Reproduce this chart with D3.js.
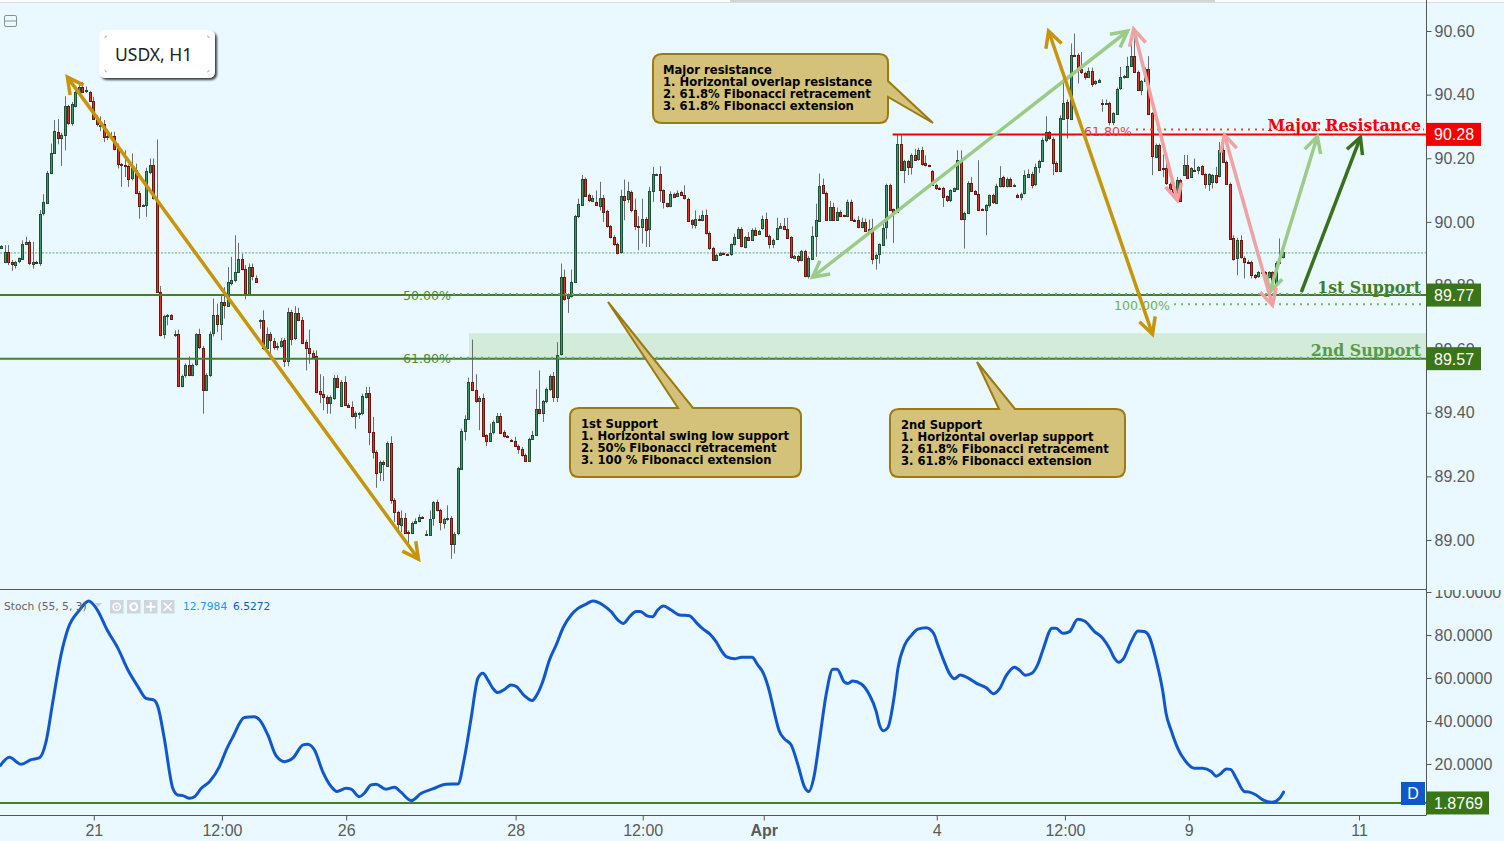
<!DOCTYPE html>
<html><head><meta charset="utf-8">
<script src="https://cdn.jsdelivr.net/npm/d3@7"></script>
<style>html,body{margin:0;padding:0;background:#e9f9ff;overflow:hidden}svg{display:block}</style>
</head><body><svg id="c" width="1504" height="841"></svg>
<script>
// open, high, low, close
const ohlcA=[[89.918,89.927,89.915,89.924],[89.874,89.927,89.870,89.904],[89.904,89.927,89.864,89.874],[89.874,89.880,89.846,89.868],[89.866,89.878,89.853,89.874],[89.874,89.888,89.870,89.885],[89.885,89.942,89.880,89.932],[89.932,89.953,89.930,89.938],[89.938,89.942,89.864,89.871],[89.868,89.937,89.853,89.874],[89.874,89.878,89.868,89.870],[89.871,90.037,89.862,90.026],[90.026,90.087,90.020,90.061],[90.061,90.160,90.058,90.155],[90.155,90.246,90.150,90.218],[90.218,90.320,90.215,90.287],[90.283,90.323,90.244,90.265],[90.265,90.280,90.176,90.273],[90.273,90.395,90.225,90.363],[90.363,90.368,90.304,90.309],[90.309,90.377,90.302,90.369],[90.365,90.419,90.360,90.408],[90.406,90.430,90.400,90.425],[90.425,90.440,90.405,90.409],[90.410,90.426,90.405,90.414],[90.407,90.412,90.378,90.380],[90.381,90.393,90.322,90.325],[90.325,90.335,90.300,90.305],[90.303,90.332,90.285,90.306],[90.309,90.320,90.251,90.268],[90.268,90.290,90.257,90.270],[90.269,90.283,90.265,90.271],[90.271,90.283,90.225,90.231],[90.231,90.246,90.168,90.182],[90.181,90.185,90.110,90.179],[90.180,90.225,90.141,90.178],[90.177,90.180,90.110,90.136],[90.136,90.215,90.130,90.168],[90.164,90.183,90.087,90.092],[90.092,90.097,90.010,90.051],[90.050,90.055,90.047,90.052],[90.053,90.170,90.016,90.161],[90.158,90.199,90.150,90.180],[90.180,90.199,90.070,90.075],[90.070,90.259,90.060,89.780]];
const ohlcB=[[89.780,89.798,89.640,89.646],[89.646,89.708,89.633,89.703],[89.703,89.710,89.675,89.707],[89.708,89.710,89.693,89.695],[89.647,89.659,89.638,89.647],[89.649,89.661,89.481,89.484],[89.484,89.520,89.480,89.517],[89.519,89.555,89.510,89.549],[89.549,89.577,89.515,89.519],[89.519,89.555,89.515,89.551],[89.551,89.650,89.548,89.646],[89.646,89.664,89.600,89.605],[89.605,89.610,89.397,89.473],[89.473,89.525,89.470,89.520],[89.520,89.655,89.512,89.649],[89.651,89.759,89.640,89.708],[89.708,89.743,89.654,89.680],[89.680,89.769,89.628,89.749],[89.749,89.795,89.696,89.739],[89.736,89.858,89.733,89.812],[89.808,89.890,89.800,89.818],[89.820,89.958,89.810,89.844],[89.844,89.934,89.840,89.884],[89.884,89.900,89.848,89.853],[89.853,89.864,89.757,89.777],[89.774,89.869,89.770,89.859],[89.859,89.869,89.816,89.830],[89.825,89.832,89.808,89.811],[89.688,89.694,89.664,89.692],[89.690,89.722,89.598,89.602],[89.602,89.668,89.598,89.646],[89.646,89.654,89.575,89.628],[89.627,89.635,89.598,89.607],[89.608,89.620,89.596,89.610],[89.610,89.635,89.605,89.627],[89.630,89.635,89.544,89.564],[89.564,89.730,89.546,89.718],[89.718,89.724,89.612,89.632],[89.632,89.735,89.628,89.712],[89.712,89.730,89.688,89.691],[89.693,89.701,89.620,89.622],[89.623,89.630,89.533,89.605],[89.605,89.661,89.554,89.588],[89.588,89.596,89.570,89.575],[89.577,89.596,89.462,89.465],[89.468,89.521,89.430,89.460],[89.460,89.515,89.408,89.450],[89.450,89.455,89.397,89.431],[89.431,89.455,89.397,89.450],[89.447,89.518,89.440,89.510],[89.510,89.518,89.478,89.481],[89.422,89.503,89.418,89.498],[89.498,89.515,89.422,89.425],[89.425,89.430,89.415,89.419],[89.419,89.436,89.385,89.390],[89.392,89.405,89.350,89.400],[89.397,89.402,89.381,89.400],[89.397,89.460,89.392,89.452],[89.450,89.481,89.445,89.463],[89.463,89.481,89.298,89.339],[89.339,89.387,89.256,89.277],[89.277,89.282,89.164,89.212],[89.214,89.250,89.185,89.245],[89.245,89.250,89.185,89.240],[89.235,89.310,89.230,89.306],[89.306,89.326,89.114,89.127],[89.127,89.132,89.057,89.088],[89.088,89.092,89.025,89.049],[89.047,89.093,89.025,89.069],[89.069,89.085,89.020,89.022],[89.024,89.030,88.978,89.022],[89.023,89.058,89.018,89.054],[89.054,89.068,89.050,89.061],[89.061,89.080,89.056,89.073],[89.073,89.075,89.068,89.070],[89.018,89.030,89.014,89.018],[89.017,89.093,89.014,89.067],[89.069,89.122,89.045,89.119],[89.119,89.127,89.090,89.093],[89.093,89.098,89.030,89.054],[89.054,89.070,89.036,89.066],[89.066,89.109,89.060,89.070],[89.070,89.075,88.941,88.988],[88.988,89.025,88.957,89.020],[89.020,89.230,89.015,89.225],[89.225,89.350,89.220,89.344],[89.344,89.392,89.313,89.381],[89.381,89.510,89.378,89.498],[89.498,89.630,89.470,89.473],[89.473,89.521,89.432,89.437],[89.437,89.452,89.345,89.447],[89.447,89.460,89.325,89.329],[89.329,89.332,89.295,89.311],[89.311,89.366,89.308,89.337],[89.337,89.376,89.332,89.370],[89.372,89.399,89.368,89.391],[89.391,89.399,89.335,89.339],[89.339,89.345,89.322,89.327],[89.327,89.330,89.320,89.324],[89.315,89.318,89.310,89.312],[89.312,89.324,89.292,89.295],[89.295,89.300,89.271,89.285],[89.287,89.292,89.262,89.268],[89.268,89.272,89.245,89.249],[89.250,89.322,89.245,89.319],[89.319,89.343,89.315,89.331],[89.331,89.474,89.328,89.413],[89.413,89.533,89.395,89.399],[89.399,89.440,89.371,89.437],[89.437,89.480,89.430,89.476],[89.473,89.521,89.468,89.515],[89.515,89.528,89.434,89.450],[89.450,89.622,89.434,89.583],[89.586,89.869,89.580,89.827],[89.827,89.850,89.752,89.758],[89.758,89.775,89.714,89.772],[89.768,89.850,89.762,89.812]];
const ohlcC=[[89.811,90.022,89.808,90.018],[90.016,90.073,90.012,90.055],[90.053,90.147,90.050,90.136],[90.136,90.140,90.080,90.083],[90.083,90.089,90.062,90.066],[90.066,90.084,90.062,90.076],[90.064,90.099,90.050,90.054],[90.052,90.126,90.036,90.076],[90.076,90.084,90.000,90.031],[90.033,90.038,89.982,89.987],[89.987,89.990,89.948,89.953],[89.953,89.958,89.925,89.931],[89.931,89.935,89.898,89.903],[89.903,90.101,89.900,90.080],[90.080,90.133,90.005,90.066],[90.070,90.126,90.060,90.096],[90.093,90.099,90.030,90.036],[90.036,90.073,89.974,89.987],[89.987,90.018,89.911,89.984],[89.984,90.073,89.932,90.010],[90.010,90.015,89.921,89.976],[89.976,90.110,89.921,90.096],[90.096,90.173,90.063,90.149],[90.149,90.152,90.146,90.150],[90.149,90.175,90.063,90.099],[90.099,90.102,90.042,90.060],[90.058,90.060,90.045,90.050],[90.050,90.096,90.046,90.089],[90.089,90.092,90.078,90.081],[90.081,90.099,90.078,90.092],[90.095,90.098,90.082,90.085],[90.085,90.115,90.070,90.074],[90.073,90.076,90.002,90.005],[90.005,90.008,89.979,89.992],[89.992,90.036,89.979,90.010],[90.010,90.021,90.002,90.006],[90.006,90.036,90.002,90.023],[90.023,90.039,89.960,89.966],[89.966,89.970,89.912,89.918],[89.919,89.922,89.877,89.881],[89.881,89.900,89.878,89.897],[89.897,89.906,89.893,89.903],[89.901,89.904,89.896,89.899],[89.899,89.901,89.893,89.896],[89.896,89.932,89.893,89.929],[89.929,89.963,89.926,89.951],[89.951,89.984,89.948,89.979],[89.979,89.984,89.920,89.924],[89.921,89.955,89.917,89.953],[89.953,89.968,89.940,89.943],[89.943,89.980,89.940,89.976],[89.976,89.982,89.958,89.961],[89.963,89.975,89.960,89.972],[89.981,90.020,89.975,90.010],[90.010,90.029,89.952,89.956],[89.956,89.960,89.916,89.932],[89.931,89.948,89.918,89.944],[89.946,90.013,89.943,89.982],[89.982,89.997,89.979,89.988],[89.988,90.012,89.976,89.979],[89.979,90.013,89.948,89.951],[89.951,89.955,89.884,89.888],[89.887,89.896,89.884,89.893],[89.893,89.896,89.872,89.880],[89.880,89.912,89.876,89.909],[89.909,89.912,89.826,89.830],[89.830,89.892,89.822,89.888],[89.886,89.986,89.884,89.957],[89.957,90.057,89.890,90.007],[90.005,90.152,90.002,90.114],[90.117,90.136,90.088,90.092],[90.092,90.095,90.003,90.007],[90.007,90.066,90.003,90.047],[90.047,90.060,90.003,90.007],[90.007,90.045,90.003,90.032],[90.032,90.037,90.015,90.019],[90.021,90.023,90.015,90.019],[90.019,90.070,90.015,90.064],[90.064,90.070,90.003,90.007],[90.007,90.010,90.003,90.005],[90.007,90.018,89.980,89.984],[89.984,90.013,89.980,90.000],[90.000,90.010,89.968,89.972],[89.972,90.007,89.968,89.979],[89.982,90.010,89.867,89.885],[89.887,89.900,89.850,89.896],[89.897,89.932,89.869,89.929],[89.929,89.995,89.925,89.982],[89.984,90.120,89.945,90.117],[90.117,90.120,90.035,90.039],[90.039,90.042,89.934,90.031],[90.031,90.272,90.028,90.244],[90.246,90.272,90.160,90.164],[90.164,90.195,90.122,90.192],[90.192,90.195,90.147,90.174],[90.174,90.215,90.149,90.211],[90.211,90.230,90.192,90.196],[90.196,90.233,90.192,90.225],[90.225,90.236,90.176,90.180],[90.184,90.209,90.174,90.177],[90.178,90.180,90.172,90.175],[90.160,90.163,90.113,90.117],[90.117,90.120,90.100,90.107],[90.108,90.110,90.100,90.107],[90.107,90.110,90.047,90.078],[90.080,90.083,90.062,90.066],[90.066,90.102,90.062,90.099],[90.097,90.108,90.094,90.105],[90.105,90.225,90.102,90.196],[90.196,90.225,90.005,90.010],[90.010,90.032,89.916,90.029],[90.029,90.128,90.025,90.123],[90.123,90.141,90.094,90.097],[90.097,90.100,90.085,90.089],[90.089,90.194,90.035,90.039],[90.040,90.043,90.036,90.038],[90.038,90.056,89.958,90.053],[90.053,90.086,90.045,90.083],[90.083,90.089,90.056,90.060],[90.060,90.120,90.056,90.114]];
const ohlcD=[[90.113,90.175,90.108,90.139],[90.141,90.145,90.108,90.113],[90.113,90.140,90.108,90.136],[90.136,90.140,90.110,90.113],[90.114,90.120,90.112,90.117],[90.086,90.089,90.078,90.080],[90.080,90.092,90.068,90.089],[90.089,90.162,90.086,90.146],[90.141,90.165,90.138,90.152],[90.152,90.158,90.105,90.117],[90.117,90.183,90.112,90.171],[90.171,90.195,90.154,90.191],[90.191,90.265,90.188,90.257],[90.257,90.332,90.250,90.281],[90.281,90.286,90.258,90.262],[90.262,90.266,90.147,90.186],[90.186,90.190,90.156,90.160],[90.160,90.335,90.156,90.326],[90.324,90.461,90.320,90.375],[90.378,90.385,90.262,90.328],[90.325,90.561,90.320,90.526],[90.526,90.592,90.518,90.522],[90.526,90.530,90.435,90.479],[90.479,90.534,90.465,90.469],[90.469,90.472,90.447,90.456],[90.456,90.485,90.452,90.475],[90.475,90.485,90.424,90.435],[90.435,90.445,90.430,90.442],[90.442,90.450,90.438,90.447],[90.375,90.385,90.346,90.372],[90.373,90.385,90.368,90.374],[90.374,90.378,90.304,90.314],[90.314,90.345,90.304,90.341],[90.341,90.422,90.338,90.419],[90.419,90.487,90.415,90.454],[90.454,90.462,90.450,90.458],[90.456,90.519,90.452,90.491],[90.491,90.594,90.488,90.521],[90.521,90.592,90.468,90.472],[90.472,90.476,90.412,90.416],[90.416,90.446,90.398,90.443],[90.443,90.486,90.440,90.482],[90.482,90.521,90.338,90.341],[90.341,90.345,90.147,90.206],[90.206,90.246,90.200,90.243],[90.243,90.246,90.160,90.165],[90.168,90.212,90.140,90.166],[90.168,90.210,90.116,90.120],[90.120,90.124,90.098,90.104],[90.104,90.108,90.085,90.094],[90.094,90.141,90.060,90.133],[90.133,90.136,90.064,90.068],[90.150,90.210,90.146,90.180],[90.180,90.210,90.135,90.139],[90.141,90.172,90.138,90.168],[90.164,90.199,90.158,90.162],[90.162,90.175,90.150,90.171],[90.175,90.178,90.146,90.149],[90.149,90.153,90.105,90.116],[90.116,90.153,90.097,90.149],[90.124,90.150,90.105,90.147],[90.147,90.173,90.120,90.124],[90.145,90.251,90.140,90.227],[90.227,90.272,90.185,90.189],[90.189,90.193,90.116,90.120],[90.120,90.124,89.944,89.948],[89.948,89.958,89.878,89.882],[89.884,89.950,89.832,89.942],[89.942,89.958,89.884,89.888],[89.888,89.892,89.822,89.875],[89.875,89.880,89.870,89.874],[89.875,89.878,89.822,89.833],[89.833,89.836,89.820,89.827],[89.827,89.845,89.824,89.841],[89.841,89.853,89.838,89.843],[89.841,89.845,89.822,89.827],[89.825,89.845,89.822,89.841],[89.841,89.845,89.785,89.806],[89.804,89.876,89.800,89.872],[89.872,89.948,89.868,89.888],[89.888,89.925,89.885,89.904]];

// stochastic main line: [bar index, value]
const stochA=[[0,19.4],[2.5,23.1],[5.8,19.9],[8.6,22],[11,23],[12.8,30.4],[14.7,49],[17,70.7],[19,83.1],[22.2,91.6],[24.8,95.8],[26.9,92.4],[30.2,81.6],[33,73.8],[35.8,63.7],[38.6,56],[40.9,50.5],[43,49.8],[44.2,46.7],[46,32],[48.4,8.7],[49.8,5.6],[51.2,5.3],[53.1,4.1],[54.5,4.8],[56.4,8.7],[58.7,11.8],[61.5,18.8],[63.4,26.5],[65.3,32.7],[68.5,41.6],[71.3,42],[72.8,40.5],[75.1,33.5],[77.4,23.9],[79.8,21.1],[82.1,22.7],[85,28.9],[86.3,29.2],[88.2,26.5],[90.5,16.5],[92.9,9.5],[94.5,7.2],[97.1,8.7],[98.5,8.3],[100.8,4.8],[102.2,6.4],[104.1,10.3],[105.5,10.6],[108.3,8.3],[110.7,9.2],[112.5,6.9],[115.4,3],[118.2,6.4],[121.4,8.4],[125.2,10.6],[128.5,10.7],[130.3,22.7],[132.2,41.3],[134.1,59.9],[135.5,62.2],[136.9,59.1]];
const stochB=[[138.3,55.2],[139.7,53.2],[141.6,54.7],[143.4,56.8],[144.9,56],[147.2,51.7],[149.3,49.5],[150.5,51.7],[152.3,58.3],[154.2,68.4],[156.1,75.4],[158.1,83.6],[160.3,89.3],[162.2,92.4],[164.5,94.4],[166.4,95.8],[169.2,94],[171.5,90.9],[173.4,87],[175,85.4],[176.7,88.5],[178.6,90.9],[179.7,90.9],[181.8,88.8],[183.2,88.5],[184.6,91.6],[186.2,93.5],[188.4,91.6],[190.7,89.3],[193.5,89],[195.4,85.9],[197.3,82.8],[199.2,80.5],[201,76.9],[202.4,73],[204,69.8],[206.2,68.9],[208.1,69.6],[211.1,69.6],[212.7,66.1],[214.3,62.2],[216,53.7],[217.1,45.9],[218.8,35.1],[220.2,31.7],[222.1,28.9],[224,19.6],[225.8,9.5],[227,7.2],[228.6,14.9],[230,30.4],[231.9,52.1],[233.8,64.1],[235,64.1],[237.1,58],[238,57.5],[239.4,58.6],[241.8,57.2],[244.1,52.1],[246,44.4],[246.9,38.2],[248,35.5],[249.3,37.1],[251.1,52.1],[252.1,64.5],[254,75.4],[255.8,79.7],[257.7,82.7],[260,83.4],[262.1,80.8],[263.3,75.4],[264.9,68.4],[266.8,61.4],[268,59.6],[269.6,61.4],[272.2,59.6],[274.3,57.4],[276.9,55.5],[279,52.7]];
const stochC=[[280.6,54.9],[282.5,61.1],[284.8,65],[286.2,63.7],[287.9,61.3],[289.7,62.2],[291.4,66.4],[292.8,73],[295.4,83.1],[296.5,83.1],[298.4,80.8],[300.3,81.6],[302.6,87.3],[304.5,86.5],[307.3,81.6],[309.6,78.5],[311.5,73.8],[312.9,69.2],[314.1,67.3],[315.4,68.9],[317.6,76.9],[319.5,81.9],[321.3,81.6],[322.7,79.2],[324.6,68.4],[326.5,53.7],[327.4,43.6],[328.8,35.8],[330.7,27.3],[332.6,21.9],[335.4,18],[337.7,18],[340.1,16.5],[341.5,14.3],[342.9,15.7],[344.3,17.7],[345.5,17.5],[347.1,13.4],[349.4,7.2],[350.8,6.9],[352.7,5.6],[354.6,3.3],[357.2,2.2],[359.3,4.1],[360.4,6.9]];

const priceTicks=[90.60,90.40,90.20,90.00,89.80,89.60,89.40,89.20,89.00];
const stochTicks=[100,80,60,40,20];
const dateTickBars=[26.2,62.2,97.1,144.7,180.4,214.4,263,299,333.8,381.6];
const dateTickLabels=["21","12:00","26","28","12:00","Apr","4","12:00","9","11"];
const resistanceLevel=90.275, support1=89.77, support2=89.57, stochLevel=1.8769, lastPrice=89.904;
const fibRes=90.29, fib50=89.773, fib618=89.573, fib100=89.741, zoneTop=89.65;
const levelLabels=["90.28","89.77","89.57","1.8769"];
// two-point annotation arrows: [bar, price] → [bar, price]
const goldArrows=[[[18.8,90.455],[117.4,88.940]],[[294.4,90.600],[323.6,89.647]]];
const paleArrows=[[[316.6,90.600],[228.1,89.826]],[[369.9,90.269],[356.5,89.779]]];
const pinkArrows=[[[318.3,90.606],[330.6,90.068]],[[343.8,90.273],[357.3,89.738]]];
const darkArrow=[[365.4,89.779],[382,90.266]];
const calloutMajor=["Major resistance","1. Horizontal overlap resistance","2. 61.8% Fibonacci retracement","3. 61.8% Fibonacci extension"];
const callout1st=["1st Support","1. Horizontal swing low support","2. 50% Fibonacci retracement","3. 100 % Fibonacci extension"];
const callout2nd=["2nd Support","1. Horizontal overlap support","2. 61.8% Fibonacci retracement","3. 61.8% Fibonacci extension"];

const candles=[...ohlcA,...ohlcB,...ohlcC,...ohlcD].map(([o,h,l,c])=>({o,h,l,c}));
const stoch=[...stochA,...stochB,...stochC];

const PW=1426, BG="#e9f9ff", AX="#555", TXT="#5a5a5a";
const x=d3.scaleLinear().domain([0,400]).range([0.5,1424.5]);
const xBar=d3.scaleLinear().domain([0,candles.length-1]).range([1,1283]);
const y=d3.scaleLinear().domain([90.60,89.00]).range([31,540]);
const ys=d3.scaleLinear().domain([100,0]).range([592,807]);
const svg=d3.select("#c");
svg.append("rect").attr("width",1504).attr("height",841).attr("fill",BG);
const defs=svg.append("defs");
defs.append("clipPath").attr("id","top").append("rect").attr("width",PW).attr("height",589);
defs.append("clipPath").attr("id","bot").append("rect").attr("y",590).attr("width",1504).attr("height",251);
defs.append("filter").attr("id","sh").attr("x","-10%").attr("y","-10%").attr("width","125%").attr("height","130%")
 .append("feDropShadow").attr("dx",2).attr("dy",2).attr("stdDeviation",1.2).attr("flood-color","#000").attr("flood-opacity",.75);

// frame strips
svg.append("rect").attr("width",1504).attr("height",2).attr("fill","#fff");
svg.append("rect").attr("y",2).attr("width",1504).attr("height",1).attr("fill","#d6dde0");
svg.append("rect").attr("x",730).attr("width",485).attr("height",2).attr("fill","#d4d4d4");

const pane=svg.append("g").attr("clip-path","url(#top)");
// support zone
pane.append("rect").attr("x",x(131.6)).attr("y",y(zoneTop)).attr("width",PW-x(131.6)).attr("height",y(support2)-y(zoneTop)).attr("fill","#d3ebdb");
// last price line
pane.append("line").attr("x1",0).attr("x2",PW).attr("y1",y(lastPrice)+.5).attr("y2",y(lastPrice)+.5).attr("stroke","#5fa583").attr("stroke-dasharray","2 1.5");

// candles
const cg=pane.append("g").selectAll("g").data(candles).join("g");
const cx=(d,i)=>Math.round(xBar(i));
cg.append("line").attr("x1",(d,i)=>cx(d,i)+.5).attr("x2",(d,i)=>cx(d,i)+.5).attr("y1",d=>y(d.h)).attr("y2",d=>y(d.l)).attr("stroke","#6d6d6d").attr("stroke-width",1);
cg.append("rect").attr("x",(d,i)=>cx(d,i)-.5).attr("width",2)
 .attr("y",d=>Math.round(y(Math.max(d.o,d.c)))+.5)
 .attr("height",d=>Math.max(1,Math.round(Math.abs(y(d.o)-y(d.c)))))
 .attr("fill",d=>d.c>=d.o?"#3f9668":"#e0301f")
 .attr("stroke",d=>d.c>=d.o?"#1d5034":"#6a1a10").attr("stroke-width",1);

// levels
const hline=(v,col,w,x0=0)=>pane.append("line").attr("x1",x0).attr("x2",PW).attr("y1",y(v)).attr("y2",y(v)).attr("stroke",col).attr("stroke-width",w);
hline(support1,"#417f2c",2);hline(support2,"#417f2c",2);
hline(resistanceLevel,"#f40000",2,x(250.6));
const dotted=(v,col,x0)=>pane.append("line").attr("x1",x0).attr("x2",PW-2).attr("y1",y(v)).attr("y2",y(v)).attr("stroke",col).attr("stroke-width",2).attr("stroke-dasharray","2 5");
dotted(fibRes,"#f4403a",1136);dotted(fib50,"#6fae5c",453);dotted(fib618,"#6fae5c",453);dotted(fib100,"#77b466",1174);

const small=(t,xe,yv,col)=>pane.append("text").attr("x",xe).attr("y",y(yv)+4.5).attr("text-anchor","end").attr("fill",col)
 .attr("font-family","DejaVu Sans").attr("font-size",12.6).text(t);
small("50.00%",451,support1,"#4b8a38");small("61.80%",451,support2,"#4b8a38");
small("61.80%",1132,fibRes-.006,"#f13a32");small("100.00%",1170,fib100-.004,"#6fae5c");

const big=(t,yb,col)=>pane.append("text").attr("x",1421).attr("y",yb).attr("text-anchor","end").attr("fill",col)
 .attr("font-family","DejaVu Serif").attr("font-weight","bold").attr("font-size",15.8).text(t);
big("Major Resistance",131,"#f40000");big("1st Support",292.5,"#417f2c");big("2nd Support",355.5,"#589a46");

// arrows
function arrow(g,seg,col,w,both=true){
 const a=[x(seg[0][0]),y(seg[0][1])], b=[x(seg[1][0]),y(seg[1][1])];
 g.append("line").attr("x1",a[0]).attr("y1",a[1]).attr("x2",b[0]).attr("y2",b[1]).attr("stroke",col).attr("stroke-width",w);
 const head=(tip,from)=>{const t=Math.atan2(from[1]-tip[1],from[0]-tip[0]),L=18,s=.48;
  g.append("path").attr("d",d3.line()([[tip[0]+L*Math.cos(t-s),tip[1]+L*Math.sin(t-s)],tip,[tip[0]+L*Math.cos(t+s),tip[1]+L*Math.sin(t+s)]]))
   .attr("fill","none").attr("stroke",col).attr("stroke-width",w)};
 head(b,a); if(both) head(a,b);
}
const ag=pane.append("g");
paleArrows.forEach(s=>arrow(ag,s,"#9ccb87",3.5));
pinkArrows.forEach(s=>arrow(ag,s,"#f0a2a2",3.5));
goldArrows.forEach(s=>arrow(ag,s,"#c7950b",3.5));
arrow(ag,darkArrow,"#39701e",3.5,false);

// callouts
function callout(L,T,R,B,tail,side,lines,tx,ty){
 const r=9;let p=`M${L+r},${T}`;
 if(side==="top") p+=`L${tail[0][0]},${T}L${tail[1][0]},${tail[1][1]}L${tail[2][0]},${T}`;
 p+=`L${R-r},${T}Q${R},${T} ${R},${T+r}`;
 if(side==="right") p+=`L${R},${tail[0][1]}L${tail[1][0]},${tail[1][1]}L${R},${tail[2][1]}`;
 p+=`L${R},${B-r}Q${R},${B} ${R-r},${B}L${L+r},${B}Q${L},${B} ${L},${B-r}L${L},${T+r}Q${L},${T} ${L+r},${T}Z`;
 const g=svg.append("g");
 g.append("path").attr("d",p).attr("fill","#d4c27a").attr("stroke","#9a7a12").attr("stroke-width",2);
 g.selectAll("text").data(lines).join("text").attr("x",tx).attr("y",(d,i)=>ty+i*12)
  .attr("font-family","DejaVu Sans").attr("font-weight","bold").attr("font-size",11.6).attr("fill","#000").text(d=>d);
}
callout(653,54,888,123,[[888,81],[933,123],[888,97]],"right",calloutMajor,663,74);
callout(570,408,801,477,[[678],[608,302],[693]],"top",callout1st,581,428);
callout(890,409,1125,477,[[999],[977,362],[1015]],"top",callout2nd,901,429);

// USDX label
const lg=svg.append("g");
lg.append("rect").attr("x",99).attr("y",30).attr("width",116).attr("height",48).attr("rx",6).attr("fill","#fff").attr("filter","url(#sh)");
lg.append("text").attr("x",115).attr("y",61).attr("font-family","Noto Sans").attr("font-size",17.5).attr("fill","#222").text("USDX, H1");
[[105,36,1,1],[209,36,-1,1],[105,72,1,-1],[209,72,-1,-1]].forEach(([a,b,dx,dy])=>lg.append("path")
 .attr("d",`M${a},${b+2*dy}Q${a},${b} ${a+2*dx},${b}`).attr("fill","none").attr("stroke","#aaa"));
// collapse icon
svg.append("rect").attr("x",4.5).attr("y",15.5).attr("width",12).attr("height",11).attr("rx",1.5).attr("fill","none").attr("stroke","#8a8f92");
svg.append("line").attr("x1",4.5).attr("x2",16.5).attr("y1",21).attr("y2",21).attr("stroke","#8a8f92");

// stochastic pane
const bot=svg.append("g").attr("clip-path","url(#bot)");
bot.append("line").attr("x1",0).attr("x2",PW).attr("y1",ys(stochLevel)).attr("y2",ys(stochLevel)).attr("stroke","#417f2c").attr("stroke-width",2);
bot.append("path").attr("d",d3.line().x(d=>x(d[0])).y(d=>ys(d[1])).curve(d3.curveMonotoneX)(stoch))
 .attr("fill","none").attr("stroke","#1157cc").attr("stroke-width",3).attr("stroke-linejoin","round").attr("stroke-linecap","round");
svg.append("line").attr("x1",0).attr("x2",PW).attr("y1",589.5).attr("y2",589.5).attr("stroke",AX);

const hdr=svg.append("g").attr("font-family","DejaVu Sans").attr("font-size",10.7);
hdr.append("text").attr("x",4).attr("y",610).attr("fill","#6a625a").text("Stoch (55, 5, 3)");
hdr.append("path").attr("d","M94,603h8l-4,4z").attr("fill","#c8ced2");
[110,127,144,161].forEach((bx,i)=>{
 hdr.append("rect").attr("x",bx).attr("y",600).attr("width",13.5).attr("height",13.5).attr("fill","#ccd6db");
 const c=bx+6.75, m=606.75;
 if(i===0){hdr.append("circle").attr("cx",c).attr("cy",m).attr("r",3.6).attr("fill","none").attr("stroke","#fff").attr("stroke-width",1.5);hdr.append("circle").attr("cx",c).attr("cy",m).attr("r",1).attr("fill","#fff");}
 if(i===1){hdr.append("circle").attr("cx",c).attr("cy",m).attr("r",3.4).attr("fill","none").attr("stroke","#fff").attr("stroke-width",2.2);}
 if(i===2){hdr.append("path").attr("d",`M${c-4.5},${m}h9M${c},${m-4.5}v9`).attr("stroke","#fff").attr("stroke-width",2);}
 if(i===3){hdr.append("path").attr("d",`M${c-4},${m-4}l8,8M${c+4},${m-4}l-8,8`).attr("stroke","#fff").attr("stroke-width",1.7);}
});
hdr.append("text").attr("x",183).attr("y",610).attr("fill","#2196f3").text("12.7984");
hdr.append("text").attr("x",233).attr("y",610).attr("fill","#1157cc").text("6.5272");

// axes
function styleAxis(g){g.select(".domain").remove();g.selectAll("line").attr("stroke",AX);
 g.selectAll("text").attr("fill",TXT).attr("font-family","Liberation Sans").attr("font-size",16);}
svg.append("g").attr("transform",`translate(${PW+.5},0)`)
 .call(d3.axisRight(y).tickValues(priceTicks).tickFormat(d3.format(".2f")).tickSize(5).tickPadding(3)).call(styleAxis);
svg.append("g").attr("clip-path","url(#bot)").append("g").attr("transform",`translate(${PW+.5},0)`)
 .call(d3.axisRight(ys).tickValues(stochTicks).tickFormat(d3.format(".4f")).tickSize(5).tickPadding(3)).call(styleAxis);
const xa=svg.append("g").attr("transform","translate(0,815.5)")
 .call(d3.axisBottom(x).tickValues(dateTickBars).tickFormat((d,i)=>dateTickLabels[i]).tickSize(5).tickPadding(4)).call(styleAxis);
xa.selectAll("text").filter((d,i)=>dateTickLabels[i]==="Apr").attr("font-weight","bold");
svg.append("line").attr("x1",0).attr("x2",PW).attr("y1",815.5).attr("y2",815.5).attr("stroke",AX);
svg.append("line").attr("x1",PW+.5).attr("x2",PW+.5).attr("y1",0).attr("y2",815.5).attr("stroke",AX);

// value tags
function tag(yc,w,fill,t){
 svg.append("rect").attr("x",PW).attr("y",yc-11.5).attr("width",w).attr("height",23).attr("fill",fill);
 svg.append("text").attr("x",1434).attr("y",yc+6).attr("font-family","Liberation Sans").attr("font-size",16).attr("fill","#fff").text(t);
}
tag(y(resistanceLevel),55,"#f40000",levelLabels[0]);
tag(y(support1),55,"#3a7518",levelLabels[1]);
tag(y(support2),55,"#3a7518",levelLabels[2]);
tag(ys(stochLevel),63,"#3a7518",levelLabels[3]);
svg.append("rect").attr("x",1401).attr("y",782).attr("width",24).attr("height",23).attr("fill","#1157cc");
svg.append("text").attr("x",1413).attr("y",799).attr("text-anchor","middle").attr("font-family","Liberation Sans").attr("font-size",16).attr("fill","#fff").text("D");
</script></body></html>
